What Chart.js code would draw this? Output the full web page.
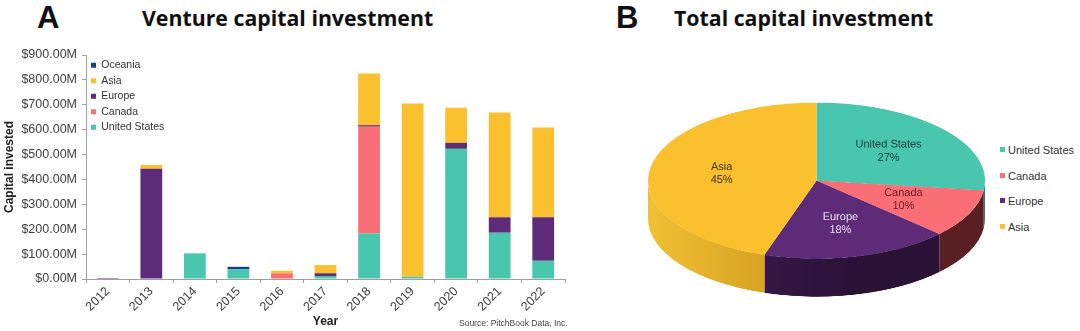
<!DOCTYPE html>
<html>
<head>
<meta charset="utf-8">
<script src="https://cdn.jsdelivr.net/npm/chart.js@4"></script>
<style>
    body { margin: 0; width: 1080px; height: 331px; overflow: hidden; background: #fff; font-family: "Liberation Sans", Arial, sans-serif; }
    .panel { position: absolute; font-family: "Liberation Sans", Arial, sans-serif; font-weight: bold; font-size: 31px; line-height: 31px; color: #111; }
    .title { position: absolute; font-family: "Open Sans", Lato, sans-serif; font-weight: bold; font-size: 21.3px; line-height: 22px; color: #111; white-space: nowrap; }
    #barChart { position: absolute; left: 0; top: 0; }
    #pieChart { position: absolute; left: 638px; top: 98px; transform: scaleY(0.463); transform-origin: 0 0; }
    .source { position: absolute; left: 459px; top: 318px; font-size: 8.5px; color: #444; white-space: nowrap; }
    .pie-legend { position: absolute; left: 1000px; font-size: 11px; color: #333; white-space: nowrap; }
    .pie-legend span { display: inline-block; width: 5px; height: 5px; margin-right: 3px; vertical-align: 2px; }
</style>
</head>
<body>
<div class="panel" style="left:37px;top:2px">A</div>
<div class="title" style="left:142px;top:7px">Venture capital investment</div>
<div class="panel" style="left:616px;top:2px">B</div>
<div class="title" style="left:674px;top:7px">Total capital investment</div>
<canvas id="barChart" width="600" height="331"></canvas>
<canvas id="pieChart" width="357" height="439"></canvas>
<div class="source">Source: PitchBook Data, Inc.</div>
<div id="pieLegend"></div>
<script>
// Chart A data (values in $M)
var years = ["2012", "2013", "2014", "2015", "2016", "2017", "2018", "2019", "2020", "2021", "2022"];
var usValues      = [0, 0, 103, 40, 0, 12, 183, 9, 523, 186, 73];
var canadaValues  = [0, 0, 0, 0, 23, 0, 429, 0, 0, 0, 0];
var europeValues  = [4, 443, 0, 0, 0, 11, 6, 0, 24, 62, 175];
var asiaValues    = [0, 15, 0, 0, 10, 33, 208, 696, 141, 421, 361];
var oceaniaValues = [0, 0, 0, 9, 0, 0, 0, 0, 0, 0, 0];
var yTicks = [0, 100, 200, 300, 400, 500, 600, 700, 800, 900];

// Chart B data (share in %)
var regions = ["United States", "Canada", "Europe", "Asia"];
var shares = [27, 10, 18, 45];

var colors = {
    us: "#48c6ae",
    canada: "#fa6f76",
    europe: "#5e2b78",
    asia: "#fbc02d",
    oceania: "#1f3a8f"
};

function barSet(label, data, color) {
    return {
        label: label,
        data: data,
        backgroundColor: color,
        borderWidth: 0,
        barPercentage: 0.5,
        categoryPercentage: 1
    };
}

// legend with position chartArea gets top = 0, push it down into the plot
const legendInside = {
    id: "legendInside",
    afterLayout(chart) {
        chart.legend.top = chart.chartArea.top;
    }
};

new Chart("barChart", {
    type: "bar",
    data: {
        labels: years,
        datasets: [
            barSet("United States", usValues, colors.us),
            barSet("Canada", canadaValues, colors.canada),
            barSet("Europe", europeValues, colors.europe),
            barSet("Asia", asiaValues, colors.asia),
            barSet("Oceania", oceaniaValues, colors.oceania)
        ]
    },
    options: {
        responsive: false,
        animation: false,
        layout: { padding: { left: 0, top: 55, right: 35, bottom: 0 } },
        plugins: {
            tooltip: { enabled: false },
            legend: {
                position: "chartArea",
                align: "start",
                reverse: true,
                labels: {
                    boxWidth: 5,
                    boxHeight: 5,
                    padding: 5,
                    color: "#333",
                    font: { family: "Liberation Sans", size: 10.5, lineHeight: 1.37 }
                }
            }
        },
        scales: {
            x: {
                stacked: true,
                afterFit: function (s) { s.height = 52; },
                grid: { display: true, drawOnChartArea: false, drawTicks: true, tickLength: 4, color: "#a0a0a0", offset: true },
                border: { color: "#a0a0a0" },
                ticks: { minRotation: 45, maxRotation: 45, padding: 1, color: "#404040", font: { family: "Liberation Sans", size: 12.5 } },
                title: { display: true, text: "Year", color: "#222", padding: { top: 0, bottom: 2 }, font: { family: "Liberation Sans", size: 12, weight: "bold" } }
            },
            y: {
                stacked: true,
                min: 0,
                max: 900,
                afterFit: function (s) { s.width = 86; },
                afterBuildTicks: function (s) { s.ticks = yTicks.map(function (v) { return { value: v }; }); },
                grid: { display: true, drawOnChartArea: false, drawTicks: true, tickLength: 4, color: "#a0a0a0" },
                border: { color: "#a0a0a0" },
                ticks: {
                    padding: 5,
                    color: "#404040",
                    font: { family: "Liberation Sans", size: 12.5 },
                    callback: function (v) { return "$" + v.toFixed(2) + "M"; }
                },
                title: { display: true, text: "Capital invested", color: "#222", padding: { top: 2, bottom: 0 }, font: { family: "Liberation Sans", size: 12, weight: "bold" } }
            }
        }
    },
    plugins: [legendInside]
});

// pie is squashed with css scaleY, so the side and the labels are drawn in unsquashed space
var squash = 0.463;
var depth = 82;
var sideColors = [["#2f8f80", "#2a7d70"], ["#7a2c2c", "#5a1f22"], ["#44205a", "#2a1237"], ["#f2c034", "#c48f17"]];
var labelColors = ["#24403d", "#6a1d22", "#eadff0", "#3a3020"];

const pieSide = {
    id: "pieSide",
    beforeDatasetsDraw(chart) {
        const ctx = chart.ctx;
        chart.getDatasetMeta(0).data.forEach((arc, i) => {
            const p = arc.getProps(["x", "y", "startAngle", "endAngle", "outerRadius"], true);
            [0, 2 * Math.PI].forEach(base => {
                const a0 = Math.max(p.startAngle, base);
                const a1 = Math.min(p.endAngle, base + Math.PI);
                if (a1 <= a0) return;
                const g = ctx.createLinearGradient(p.x - p.outerRadius, 0, p.x + p.outerRadius * 0.2, 0);
                g.addColorStop(0, sideColors[i][0]);
                g.addColorStop(1, sideColors[i][1]);
                ctx.save();
                ctx.beginPath();
                ctx.arc(p.x, p.y, p.outerRadius, a0, a1);
                ctx.lineTo(p.x + p.outerRadius * Math.cos(a1), p.y + depth + p.outerRadius * Math.sin(a1));
                ctx.arc(p.x, p.y + depth, p.outerRadius, a1, a0, true);
                ctx.closePath();
                ctx.fillStyle = g;
                ctx.fill();
                ctx.restore();
            });
        });
    },
    afterDatasetsDraw(chart) {
        const ctx = chart.ctx;
        chart.getDatasetMeta(0).data.forEach((arc, i) => {
            const p = arc.getProps(["x", "y", "startAngle", "endAngle", "outerRadius"], true);
            const mid = (p.startAngle + p.endAngle) / 2;
            const px = p.x + 0.57 * p.outerRadius * Math.cos(mid);
            const py = p.y + 0.57 * p.outerRadius * Math.sin(mid);
            ctx.save();
            ctx.translate(px, py);
            ctx.scale(1, 1 / squash);
            ctx.fillStyle = labelColors[i];
            ctx.font = "11px 'Liberation Sans'";
            ctx.textAlign = "center";
            ctx.textBaseline = "middle";
            ctx.fillText(regions[i], 0, -6.5);
            ctx.fillText(shares[i] + "%", 0, 6.5);
            ctx.restore();
        });
    }
};

new Chart("pieChart", {
    type: "pie",
    data: {
        labels: regions,
        datasets: [{
            data: shares,
            backgroundColor: [colors.us, colors.canada, colors.europe, colors.asia],
            borderWidth: 0,
            hoverOffset: 0,
            offset: 0
        }]
    },
    options: {
        responsive: false,
        animation: false,
        layout: { padding: { left: 10, top: 10, right: 10, bottom: 92 } },
        plugins: { legend: { display: false }, tooltip: { enabled: false } }
    },
    plugins: [pieSide]
});

// pie legend as html
var legendTops = [144, 170, 195, 221];
var pieColors = [colors.us, colors.canada, colors.europe, colors.asia];
var legendBox = document.getElementById("pieLegend");
regions.forEach(function (r, i) {
    var d = document.createElement("div");
    d.className = "pie-legend";
    d.style.top = legendTops[i] + "px";
    d.innerHTML = '<span style="background:' + pieColors[i] + '"></span>' + r;
    legendBox.appendChild(d);
});
</script>
</body>
</html>
